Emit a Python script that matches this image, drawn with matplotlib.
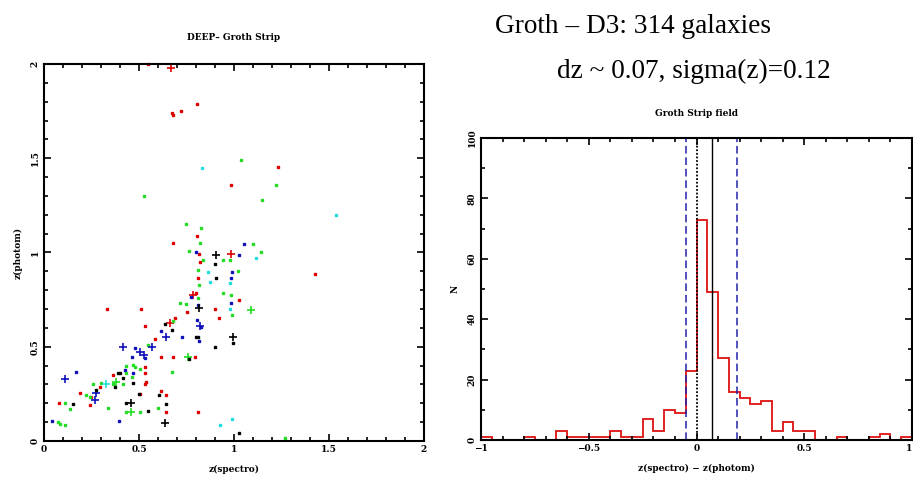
import numpy as np
import matplotlib
matplotlib.use("Agg")
import matplotlib.pyplot as plt
from matplotlib.ticker import MultipleLocator, FixedLocator, FixedFormatter

# ---- left panel: z(spectro) vs z(photom), per colour, squares and crosses
red_sq = [(0.547, 2.0), (0.807, 1.79), (0.674, 1.74), (0.68, 1.73), (0.72, 1.75),
          (1.233, 1.455), (0.982, 1.36), (0.805, 1.09), (0.677, 1.053), (0.814, 0.993),
          (0.819, 0.947), (0.811, 0.864), (1.425, 0.885), (0.802, 0.784), (1.025, 0.749),
          (0.753, 0.687), (0.332, 0.699), (0.509, 0.699), (0.9, 0.699), (0.919, 0.65),
          (0.688, 0.651), (0.532, 0.612), (0.582, 0.54), (0.618, 0.444), (0.679, 0.448),
          (0.793, 0.448), (0.53, 0.395), (0.363, 0.35), (0.533, 0.359), (0.539, 0.315),
          (0.533, 0.301), (0.293, 0.288), (0.191, 0.257), (0.249, 0.235), (0.504, 0.25),
          (0.614, 0.265), (0.644, 0.242), (0.244, 0.191), (0.079, 0.2), (0.644, 0.152),
          (0.81, 0.152)]
red_pl = [(0.67, 1.98), (0.982, 0.993), (0.784, 0.775), (0.661, 0.625)]

green_sq = [(1.035, 1.49), (1.223, 1.36), (0.526, 1.30), (1.147, 1.28), (0.746, 1.15),
            (0.826, 1.13), (0.819, 1.053), (1.1, 1.044), (1.144, 1.0), (0.761, 1.01),
            (0.942, 0.958), (0.977, 0.961), (0.837, 0.961), (0.811, 0.908), (1.019, 0.904),
            (0.816, 0.828), (0.942, 0.784), (0.986, 0.775), (0.811, 0.758), (0.714, 0.731),
            (0.746, 0.727), (0.991, 0.669), (0.679, 0.634), (0.547, 0.51), (0.43, 0.398),
            (0.468, 0.404), (0.477, 0.395), (0.504, 0.381), (0.675, 0.368), (0.433, 0.359),
            (0.461, 0.342), (0.363, 0.303), (0.416, 0.301), (0.298, 0.31), (0.258, 0.301),
            (0.223, 0.244), (0.24, 0.235), (0.337, 0.177), (0.109, 0.2), (0.139, 0.17),
            (0.6, 0.177), (0.433, 0.152), (0.504, 0.152), (0.074, 0.103), (0.082, 0.088),
            (0.109, 0.083), (1.268, 0.018)]
green_pl = [(1.091, 0.696), (0.758, 0.444), (0.381, 0.315), (0.46, 0.152)]

blue_sq = [(1.053, 1.044), (1.026, 0.988), (0.80, 1.0), (0.989, 0.899), (0.986, 0.864),
           (0.775, 0.766), (0.984, 0.731), (0.812, 0.722), (0.805, 0.642), (0.828, 0.604),
           (0.618, 0.581), (0.728, 0.55), (0.816, 0.529), (0.477, 0.496), (0.465, 0.444),
           (0.53, 0.439), (0.425, 0.377), (0.17, 0.368), (0.468, 0.359), (0.395, 0.106),
           (0.044, 0.106)]
blue_pl = [(0.819, 0.611), (0.644, 0.554), (0.568, 0.501), (0.416, 0.501), (0.504, 0.474),
           (0.525, 0.457), (0.109, 0.327), (0.275, 0.253), (0.267, 0.218)]

black_sq = [(0.898, 0.94), (0.907, 0.867), (0.639, 0.621), (0.675, 0.589), (0.802, 0.55),
            (0.812, 0.55), (0.995, 0.519), (0.898, 0.497), (0.763, 0.434), (0.389, 0.359),
            (0.402, 0.359), (0.416, 0.333), (0.468, 0.306), (0.372, 0.288), (0.275, 0.271),
            (0.5, 0.25), (0.605, 0.244), (0.153, 0.195), (0.433, 0.2), (0.644, 0.195),
            (0.547, 0.161), (1.025, 0.044)]
black_pl = [(0.904, 0.988), (0.814, 0.704), (0.995, 0.554), (0.46, 0.2), (0.639, 0.094)]

cyan_sq = [(0.833, 1.45), (1.535, 1.20), (1.118, 0.973), (0.863, 0.899), (0.872, 0.846),
           (0.981, 0.837), (0.977, 0.699), (0.925, 0.085), (0.991, 0.115)]
cyan_pl = [(0.328, 0.303)]

left_ticks = [0, 0.5, 1, 1.5, 2]
left_labels = ["0", "0.5", "1", "1.5", "2"]

# ---- right panel: histogram of z(spectro) - z(photom)
bin_edges = np.round(np.arange(-1.0, 1.0001, 0.05), 2)
counts = [1, 0, 0, 0, 1, 0, 0, 3, 1, 1, 1, 1, 3, 1, 1, 7, 3, 10, 9, 23,
          73, 49, 27, 16, 14, 12, 13, 3, 6, 3, 3, 0, 0, 1, 0, 0, 1, 2, 0, 1]
dz_mean = 0.07
sigma_z = 0.12
zero_line = 0.0
right_xticks = [-1, -0.5, 0, 0.5, 1]
right_xlabels = ["\u22121", "\u22120.5", "0", "0.5", "1"]
right_yticks = [0, 20, 40, 60, 80, 100]

small = dict(family="DejaVu Serif", fontweight="bold", fontsize=6.5)

fig = plt.figure(figsize=(9.13, 4.79), dpi=100)


def style_axes(ax):
    for s in ax.spines.values():
        s.set_linewidth(1.5)
    ax.tick_params(which="both", direction="in", top=True, right=True, width=1.2)
    ax.tick_params(which="major", length=5, pad=3)
    ax.tick_params(which="minor", length=3)
    for lab in ax.get_xticklabels() + ax.get_yticklabels():
        lab.set_fontfamily("DejaVu Serif")
        lab.set_fontweight("bold")
        lab.set_fontsize(6.5)
    for lab in ax.get_yticklabels():
        lab.set_rotation(90)
        lab.set_va("center")


# left
ax1 = fig.add_axes([44 / 913, 1 - 441 / 479, 380 / 913, 377 / 479])
colors = [("#dd0000", red_sq, red_pl), ("#22dd22", green_sq, green_pl),
          ("#1111bb", blue_sq, blue_pl), ("#000000", black_sq, black_pl),
          ("#22dddd", cyan_sq, cyan_pl)]
for c, sq, pl in colors:
    sx, sy = zip(*sq)
    ax1.plot(sx, sy, ls="none", marker="s", ms=1.9, color=c, mec=c, clip_on=False)
    px, py = zip(*pl)
    ax1.plot(px, py, ls="none", marker="+", ms=6, mew=1.2, color=c, clip_on=False)
ax1.set_xlim(0, 2)
ax1.set_ylim(0, 2)
ax1.xaxis.set_major_locator(FixedLocator(left_ticks))
ax1.xaxis.set_major_formatter(FixedFormatter(left_labels))
ax1.yaxis.set_major_locator(FixedLocator(left_ticks))
ax1.yaxis.set_major_formatter(FixedFormatter(left_labels))
ax1.xaxis.set_minor_locator(MultipleLocator(0.1))
ax1.yaxis.set_minor_locator(MultipleLocator(0.1))
style_axes(ax1)
ax1.set_title("DEEP\u2013 Groth Strip", pad=17, **small)
ax1.set_xlabel("z(spectro)", labelpad=8, **small)
ax1.set_ylabel("z(photom)", labelpad=6, **small)

# right
ax2 = fig.add_axes([481 / 913, 1 - 440 / 479, 431 / 913, 302 / 479])
ax2.stairs(counts, bin_edges, color="#dd1111", lw=1.3)
for xv in (dz_mean - sigma_z, dz_mean + sigma_z):
    ax2.axvline(xv, color="#2222aa", lw=1.1, ls=(0, (5, 2.5)))
ax2.axvline(zero_line, color="black", lw=1.3, ls=(0, (1, 1)))
ax2.axvline(dz_mean, color="black", lw=1.0)
ax2.set_xlim(-1, 1)
ax2.set_ylim(0, 100)
ax2.xaxis.set_major_locator(FixedLocator(right_xticks))
ax2.xaxis.set_major_formatter(FixedFormatter(right_xlabels))
ax2.yaxis.set_major_locator(FixedLocator(right_yticks))
ax2.xaxis.set_minor_locator(MultipleLocator(0.1))
ax2.yaxis.set_minor_locator(MultipleLocator(10))
style_axes(ax2)
ax2.get_xticklabels()[-1].set_ha("right")
ax2.set_title("Groth Strip field", pad=16, **small)
ax2.set_xlabel("z(spectro) \u2212 z(photom)", labelpad=8, **small)
ax2.set_ylabel("N", labelpad=6, **small)

big = dict(family="Liberation Serif", fontsize=19.6, va="baseline", ha="left")
fig.text(495 / 913, 1 - 33 / 479, "Groth \u2013 D3: 314 galaxies", **big)
fig.text(557 / 913, 1 - 78 / 479, "dz ~ 0.07, sigma(z)=0.12", **big)

fig.savefig("out.png", dpi=100)
